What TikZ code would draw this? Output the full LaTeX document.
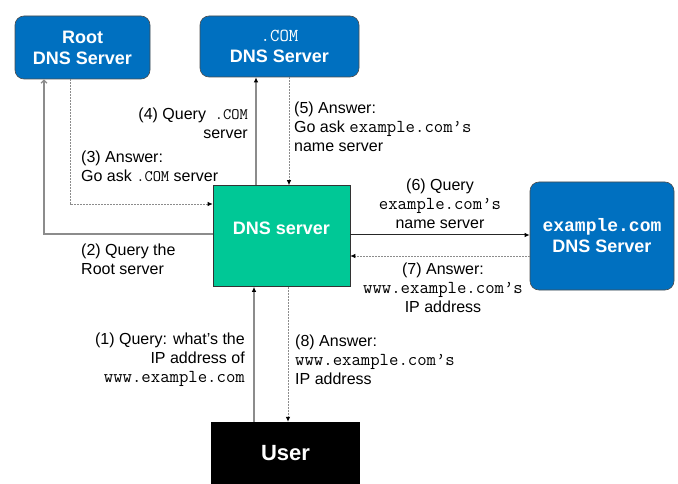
\documentclass[tikz,border=0pt]{standalone}
\usepackage{fontspec}
\setmainfont{Liberation Sans}
\setmonofont{Latin Modern Mono}[Scale=1.14]
\newfontfamily\boxmono{Liberation Mono}
\usetikzlibrary{positioning,arrows.meta}
\definecolor{srvblue}{HTML}{0070C0}
\definecolor{srvgreen}{HTML}{00C896}
\definecolor{lnkgray}{HTML}{8C8C8C}
\tikzset{
  server/.style={shape=rectangle,rounded corners=9pt,fill=srvblue,
    draw=black!70,line width=0.6pt,text=white,align=center,
    font=\fontsize{18}{21}\selectfont\bfseries},
  resolver/.style={shape=rectangle,fill=srvgreen,draw=black!80,
    line width=0.6pt,text=white,font=\fontsize{18}{21}\selectfont\bfseries},
  client/.style={shape=rectangle,fill=black,text=white,
    font=\fontsize{22}{24}\selectfont\bfseries},
  query/.style={draw=lnkgray,line width=1.3pt,-{Latex[length=5pt,width=4.5pt,black]}},
  answer/.style={draw=black!45,line width=0.8pt,dash pattern=on 2pt off 1pt,
    -{Latex[length=5pt,width=4.5pt,black]}},
  msg/.style={inner sep=0pt,font=\fontsize{16}{19}\selectfont}
}
\newcommand{\dotcom}[1][14]{{\fontsize{#1}{#1}\selectfont\ttfamily .COM}}

\begin{document}
\begin{tikzpicture}[x=1pt,y=-1pt]
  \useasboundingbox (0,0) rectangle (678,484);
  % servers
  \node (root) [server,minimum width=135pt,minimum height=63pt] at (82.5,47.5)
    {Root\\DNS Server};
  \node (com) [server,minimum width=159pt,minimum height=61pt] at (279.5,46.5)
    {{\mdseries\dotcom[16]}\\DNS Server};
  \node (dns) [resolver,minimum width=137pt,minimum height=101pt] at (281.5,236)
    {\raisebox{15pt}{DNS server}};
  \node (ex) [server,minimum width=144pt,minimum height=108pt] at (602,236)
    {{\boxmono example.com}\\DNS Server};
  \node (user) [client,minimum width=149pt,minimum height=62pt] at (285.5,453)
    {User};
  % links
  \draw [query,-{Straight Barb[length=3pt,width=6pt]}] (dns.west |- 0,234) -| (root.south -| 44,0);
  \draw [answer] (root.south -| 70,0) |- (dns.west |- 0,204);
  \draw [query] (dns.north -| 256,0) -- (com.south -| 256,0);
  \draw [answer] (com.south -| 289,0) -- (dns.north -| 289,0);
  \draw [query,draw=black!85,line width=1pt] (dns.east |- 0,235) -- (ex.west |- 0,235);
  \draw [answer] (ex.west |- 0,256) -- (dns.east |- 0,256);
  \draw [query] (user.north -| 254,0) -- (dns.south -| 254,0);
  \draw [answer] (dns.south -| 288,0) -- (user.north -| 288,0);
  % messages
  \node (m1) [msg,anchor=east,align=right] at (245,360)
    {(1) Query: what’s the\\IP address of\\\texttt{www.example.com}};
  \node (m2) [msg,anchor=west,align=left] at (81,259)
    {(2) Query the\\Root server};
  \node (m3) [msg,anchor=west,align=left] at (81,166)
    {(3) Answer:\\Go ask \dotcom{} server};
  \node (m4) [msg,anchor=east,align=right] at (248,123)
    {(4) Query \ \dotcom\\server};
  \node (m5) [msg,anchor=west,align=left] at (294,127)
    {(5) Answer:\\Go ask \texttt{example.com’s}\\name server};
  \node (m6) [msg,align=center] at (440,204)
    {(6) Query\\\texttt{example.com’s}\\name server};
  \node (m7) [msg,align=center] at (443,288)
    {(7) Answer:\\\texttt{www.example.com’s}\\IP address};
  \node (m8) [msg,anchor=west,align=left] at (295,360)
    {(8) Answer:\\\texttt{www.example.com’s}\\IP address};
\end{tikzpicture}
\end{document}
